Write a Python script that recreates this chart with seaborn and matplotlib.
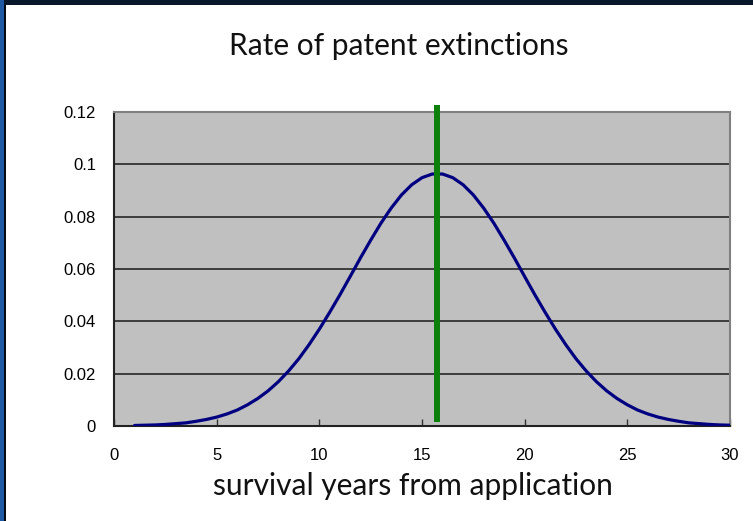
import matplotlib
matplotlib.use("Agg")
import matplotlib.pyplot as plt
from matplotlib.patches import Rectangle
import seaborn as sns

# values
years = [1.0, 1.5, 2.0, 2.5, 3.0, 3.5, 4.0, 4.5, 5.0, 5.5,
         6.0, 6.5, 7.0, 7.5, 8.0, 8.5, 9.0, 9.5, 10.0, 10.5,
         11.0, 11.5, 12.0, 12.5, 13.0, 13.5, 14.0, 14.5, 15.0, 15.5,
         16.0, 16.5, 17.0, 17.5, 18.0, 18.5, 19.0, 19.5, 20.0, 20.5,
         21.0, 21.5, 22.0, 22.5, 23.0, 23.5, 24.0, 24.5, 25.0, 25.5,
         26.0, 26.5, 27.0, 27.5, 28.0, 28.5, 29.0, 29.5, 30.0]
rates = [0.0002, 0.0003, 0.0004, 0.0006, 0.0009, 0.0012, 0.0018, 0.0025, 0.0034, 0.0046,
         0.0061, 0.0081, 0.0105, 0.0134, 0.0169, 0.0210, 0.0257, 0.0311, 0.0370, 0.0434,
         0.0501, 0.0571, 0.0642, 0.0710, 0.0775, 0.0833, 0.0883, 0.0922, 0.0949, 0.0963,
         0.0963, 0.0949, 0.0922, 0.0883, 0.0833, 0.0775, 0.0710, 0.0642, 0.0571, 0.0501,
         0.0434, 0.0370, 0.0311, 0.0257, 0.0210, 0.0169, 0.0134, 0.0105, 0.0081, 0.0061,
         0.0046, 0.0034, 0.0025, 0.0018, 0.0012, 0.0009, 0.0006, 0.0004, 0.0003]
peak_year = 15.75

x_ticks = [0, 5, 10, 15, 20, 25, 30]
y_ticks = [0, 0.02, 0.04, 0.06, 0.08, 0.10, 0.12]
y_tick_labels = ["0", "0.02", "0.04", "0.06", "0.08", "0.1", "0.12"]

title = "Rate of patent extinctions"
x_label = "survival years from application"

sns.set_theme(style="white")
plt.rcParams["font.family"] = ["Liberation Sans", "DejaVu Sans"]

fig = plt.figure(figsize=(7.53, 5.21), dpi=100)
fig.patch.set_facecolor("white")

# slide frame: dark band on top, blue strip on the left
fig.patches.append(Rectangle((0, 1 - 5 / 521), 1, 5 / 521, transform=fig.transFigure,
                             facecolor="#081729", edgecolor="none", zorder=0))
fig.patches.append(Rectangle((0, 0), 4 / 753, 1, transform=fig.transFigure,
                             facecolor="#1f58a3", edgecolor="none", zorder=0))
fig.patches.append(Rectangle((4 / 753, 0), 1.5 / 753, 1 - 5 / 521, transform=fig.transFigure,
                             facecolor="#050a12", edgecolor="none", zorder=0))

ax = fig.add_axes([114 / 753, 1 - 426 / 521, 616 / 753, 314 / 521])
ax.set_facecolor("#c0c0c0")

sns.lineplot(x=years, y=rates, ax=ax, color="#000080", linewidth=2.3, zorder=3)
vl = ax.axvline(peak_year, ymin=4 / 314, ymax=(426 - 105) / 314, color="#0b800b",
                linewidth=4.3, clip_on=False, zorder=4)
vl.set_solid_capstyle("butt")

ax.set_xlim(0, 30)
ax.set_ylim(0, 0.12)
ax.set_xticks(x_ticks)
ax.set_yticks(y_ticks)
ax.set_yticklabels(y_tick_labels)
ax.yaxis.grid(True, color="#1a1a1a", linewidth=1.1)
ax.xaxis.grid(False)
ax.set_axisbelow(True)

ax.tick_params(axis="x", direction="in", length=5, width=1, color="#333333",
               pad=16, labelsize=12, labelcolor="black", bottom=True)
ax.tick_params(axis="y", length=0, pad=13, labelsize=12, labelcolor="black")

for side in ["left", "bottom"]:
    ax.spines[side].set_color("#222222")
    ax.spines[side].set_linewidth(1.5)
for side in ["top", "right"]:
    ax.spines[side].set_visible(True)
    ax.spines[side].set_color("#808080")
    ax.spines[side].set_linewidth(1.5)

fig.text(0.529, 0.912, title, ha="center", va="center", fontsize=21.5,
         family=["Lato", "DejaVu Sans"], color="#111111")
fig.text(0.549, 0.068, x_label, ha="center", va="center", fontsize=21.5,
         family=["Lato", "DejaVu Sans"], color="#111111")

fig.savefig("out.png", dpi=100, facecolor=fig.get_facecolor())
